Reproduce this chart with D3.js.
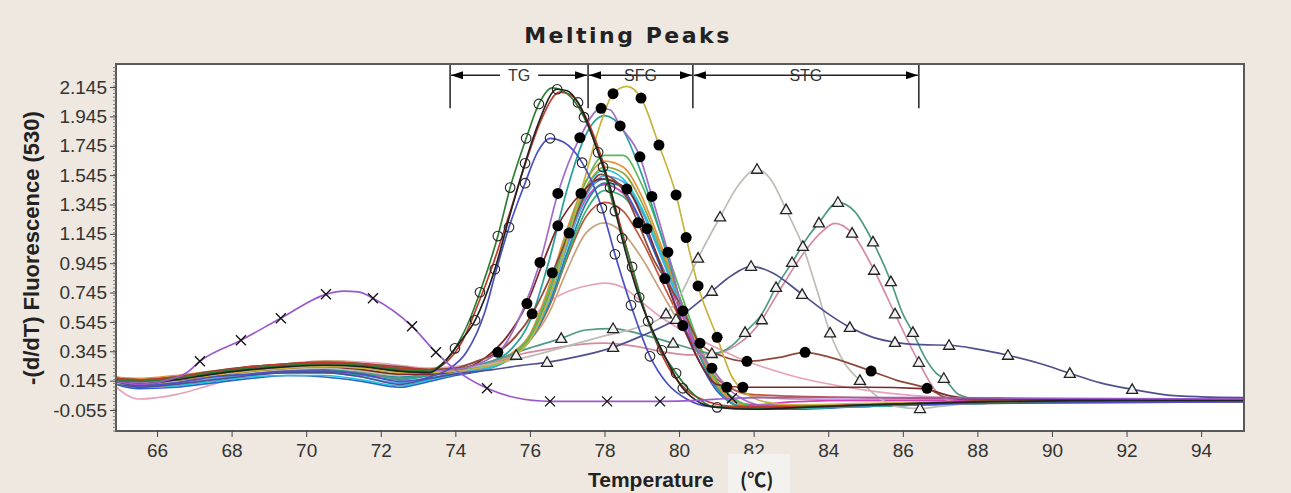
<!DOCTYPE html>
<html><head><meta charset="utf-8">
<script src="https://cdn.jsdelivr.net/npm/d3@7"></script>
<style>html,body{margin:0;padding:0;background:#EEE8E0;} svg{display:block}</style>
</head><body><svg id="chart" width="1291" height="493"></svg>
<script>
// ---------- DATA ----------
const tempTicks = [66,68,70,72,74,76,78,80,82,84,86,88,90,92,94];
const fluorTicks = [-0.055,0.145,0.345,0.545,0.745,0.945,1.145,1.345,1.545,1.745,1.945,2.145];
const regionNames = ["TG","SFG","STG"];
const regionBounds = [73.86,77.56,80.37,86.43];

// shared temperature grid for the unmarked curves
const gridT = [64.9,65.5,66.5,67.5,68.5,69.5,70.5,71.5,72.5,73.3,74,74.8,75.5,76,76.5,77,77.5,78,78.5,79,79.5,80,80.5,81,81.5,82,83,85,88,91,95.15];
const tealV     = [0.15,0.14,0.15,0.17,0.19,0.2,0.2,0.18,0.15,0.18,0.21, 0.26,0.36,0.55,0.95,1.45,1.82,1.95,1.85,1.55,1.15,0.72,0.35,0.1,-0.02,-0.04,-0.04,-0.03,-0.01,0.0,0.0];
const greenV    = [0.16,0.15,0.17,0.2,0.23,0.25,0.25,0.24,0.21,0.21,0.22, 0.25,0.32,0.45,0.75,1.15,1.5,1.68,1.68,1.48,1.15,0.78,0.42,0.15,0.02,-0.03,-0.04,-0.03,-0.01,0.0,0.0];
const orangeV   = [0.17,0.16,0.18,0.21,0.24,0.26,0.27,0.26,0.23,0.22,0.23, 0.26,0.33,0.46,0.78,1.18,1.5,1.64,1.6,1.4,1.08,0.72,0.38,0.12,0.0,-0.03,-0.03,-0.02,0.0,0.0,0.0];
const cyanV     = [0.13,0.1,0.11,0.14,0.17,0.18,0.18,0.15,0.11,0.15,0.19, 0.22,0.3,0.42,0.7,1.1,1.45,1.58,1.52,1.32,1.02,0.7,0.38,0.12,0.0,-0.04,-0.04,-0.03,-0.01,0.0,0.0];
const skyV      = [0.14,0.12,0.13,0.16,0.19,0.2,0.2,0.17,0.13,0.16,0.2, 0.23,0.3,0.42,0.68,1.06,1.4,1.54,1.5,1.3,1.0,0.68,0.36,0.11,0.0,-0.04,-0.04,-0.03,-0.01,0.0,0.0];
const blueV     = [0.12,0.09,0.1,0.13,0.16,0.18,0.17,0.14,0.1,0.14,0.18, 0.22,0.3,0.44,0.72,1.1,1.42,1.52,1.45,1.22,0.92,0.6,0.3,0.08,-0.02,-0.05,-0.05,-0.03,-0.01,0.0,0.0];
const tealBlueV = [0.15,0.13,0.14,0.17,0.2,0.22,0.22,0.2,0.17,0.19,0.21, 0.24,0.31,0.42,0.66,1.02,1.35,1.49,1.47,1.3,1.02,0.72,0.4,0.14,0.01,-0.03,-0.04,-0.03,-0.01,0.0,0.0];
const seaGreenV = [0.16,0.14,0.16,0.19,0.22,0.24,0.24,0.22,0.19,0.2,0.22, 0.25,0.32,0.43,0.66,1.0,1.3,1.44,1.4,1.22,0.95,0.66,0.36,0.12,0.0,-0.03,-0.03,-0.02,0.0,0.0,0.0];
const magentaV  = [0.15,0.12,0.13,0.16,0.19,0.21,0.21,0.19,0.16,0.18,0.2, 0.23,0.3,0.43,0.7,1.08,1.38,1.48,1.42,1.22,0.94,0.64,0.34,0.1,0.0,-0.02,0.0,0.01,0.01,0.02,0.02];
const oliveV    = [0.16,0.15,0.17,0.2,0.23,0.25,0.26,0.25,0.22,0.21,0.22, 0.25,0.31,0.44,0.74,1.14,1.46,1.6,1.56,1.36,1.05,0.72,0.39,0.13,0.01,-0.03,-0.04,-0.02,-0.01,0.0,0.0];
const redBrownV = [0.15,0.14,0.16,0.19,0.22,0.25,0.26,0.25,0.22,0.21,0.22, 0.25,0.31,0.42,0.64,0.98,1.26,1.36,1.3,1.1,0.84,0.58,0.34,0.16,0.08,0.05,0.04,0.03,0.02,0.01,0.01];
const tanV      = [0.17,0.15,0.17,0.2,0.23,0.26,0.28,0.27,0.24,0.22,0.23, 0.26,0.32,0.42,0.6,0.9,1.15,1.22,1.15,0.98,0.76,0.54,0.34,0.18,0.08,0.04,0.02,0.01,0.01,0.0,0.0];
const pinkV     = [0.1,0.02,0.05,0.12,0.19,0.24,0.27,0.27,0.25,0.23,0.24, 0.3,0.42,0.56,0.68,0.75,0.79,0.81,0.78,0.68,0.58,0.5,0.43,0.37,0.31,0.26,0.18,0.08,0.02,0.01,0.01];

// marked curves: [temperature, value, marker?]
const purpleX = [[64.9,0.14],[65.5,0.12],[66.3,0.15],[66.8,0.2],[67.15,0.277,1],[68.25,0.42,1],[69.32,0.57,1],[70.53,0.733,1],[71.0,0.755],[71.4,0.75],[71.79,0.706,1],[72.84,0.515,1],[73.48,0.338,1],[74.0,0.22],[74.85,0.093,1],[75.6,0.03],[76.54,0.004,1],[78.07,0.004,1],[79.49,0.004,1],[80.5,0.01],[81.42,0.025,1],[83,0.03],[86,0.03],[90,0.025],[95.15,0.02]];
const tgBlack = [[64.9,0.14],[65.5,0.12],[66.5,0.15],[67.5,0.19],[68.5,0.22],[69.5,0.24],[70.5,0.25],[71.5,0.24],[72.5,0.21],[73.3,0.2],[73.7,0.27],[74.1,0.4],[74.53,0.556,1],[75.06,0.904,1],[75.47,1.28],[75.87,1.626,1],[76.2,1.88],[76.73,2.13,1],[77.0,2.12],[77.29,2.04,1],[77.83,1.70,1],[78.15,1.46,1],[78.47,1.115,1],[78.93,0.713,1],[79.54,0.352,1],[80.1,0.093,1],[80.6,-0.01],[81.02,-0.037,1],[82,-0.05],[83,-0.04],[85,-0.02],[88,0.0],[92,0.01],[95.15,0.01]];
const tgGreen = [[64.9,0.15],[65.5,0.14],[66.5,0.16],[67.5,0.2],[68.5,0.23],[69.5,0.25],[70.5,0.26],[71.5,0.25],[72.5,0.22],[73.3,0.21],[73.6,0.25],[73.99,0.365,1],[74.4,0.57],[74.66,0.747,1],[75.14,1.13,1],[75.47,1.46,1],[75.9,1.796,1],[76.24,2.03,1],[76.6,2.14],[77.0,2.1],[77.45,1.94,1],[77.96,1.6,1],[78.28,1.3,1],[78.74,0.92,1],[79.17,0.55,1],[79.92,0.195,1],[80.4,0.05],[80.9,-0.03],[82,-0.045],[84,-0.03],[88,0.0],[95.15,0.01]];
const tgRed = [[64.9,0.16],[65.5,0.15],[66.5,0.17],[67.5,0.2],[68.5,0.24],[69.5,0.26],[70.5,0.27],[71.5,0.26],[72.5,0.23],[73.3,0.22],[73.7,0.26],[74.2,0.42],[74.6,0.66],[75.0,0.93],[75.5,1.32],[75.9,1.64],[76.3,1.92],[76.8,2.11],[77.1,2.09],[77.5,1.94],[77.9,1.68],[78.3,1.32],[78.6,1.04],[79.0,0.68],[79.4,0.4],[79.8,0.2],[80.2,0.08],[80.8,0.0],[81.5,-0.03],[83,-0.03],[85,-0.02],[88,0.0],[92,0.01],[95.15,0.01]];
const tgBlue = [[64.9,0.14],[65.5,0.11],[66.5,0.13],[67.5,0.17],[68.5,0.19],[69.5,0.21],[70.5,0.21],[71.5,0.19],[72.5,0.14],[73.3,0.17],[73.8,0.22],[74.3,0.34],[74.8,0.62],[75.1,0.9],[75.44,1.19,1],[75.87,1.49,1],[76.2,1.7],[76.54,1.796,1],[76.9,1.77],[77.4,1.63,1],[77.93,1.32,1],[78.28,1.006,1],[78.71,0.658,1],[79.22,0.311,1],[79.7,0.12],[80.2,0.02],[80.8,-0.03],[82,-0.04],[84,-0.03],[88,-0.01],[95.15,0.0]];
const sfgYellow = [[64.9,0.13],[65.5,0.12],[66.5,0.15],[67.5,0.18],[68.5,0.21],[69.5,0.23],[70.5,0.24],[71.5,0.23],[72.5,0.2],[73.3,0.2],[74,0.21],[74.8,0.24],[75.5,0.3],[76,0.42],[76.5,0.7],[77,1.1],[77.5,1.55],[77.9,1.9],[78.23,2.1,1],[78.6,2.15],[78.98,2.07,1],[79.46,1.75,1],[79.92,1.41,1],[80.19,1.12,1],[80.51,0.79,1],[81.02,0.44,1],[81.4,0.18],[81.8,0.06],[82.3,0.0],[83,-0.02],[85,-0.01],[88,0.0],[95.15,0.0]];
const sfgViolet = [[64.9,0.14],[65.5,0.13],[66.5,0.16],[67.5,0.2],[68.5,0.23],[69.5,0.25],[70.5,0.26],[71.5,0.25],[72.5,0.23],[73.3,0.21],[74,0.22],[74.8,0.28],[75.3,0.38],[75.8,0.62],[76.27,0.95,1],[76.75,1.42,1],[77.34,1.8,1],[77.91,2.0,1],[78.15,1.99],[78.42,1.88,1],[78.95,1.67,1],[79.27,1.4,1],[79.7,1.02,1],[80.1,0.62,1],[80.5,0.36],[80.88,0.23,1],[81.28,0.1,1],[81.7,0.02],[82.2,-0.02],[84,-0.02],[88,0.0],[95.15,0.0]];
const sfgBrown = [[64.9,0.16],[65.5,0.15],[66.5,0.17],[67.5,0.21],[68.5,0.24],[69.5,0.26],[70.5,0.27],[71.5,0.26],[72.5,0.24],[73.3,0.22],[74,0.23],[74.6,0.28],[75.14,0.338,1],[75.6,0.44],[76.06,0.6,1],[76.6,0.88,1],[77.05,1.15,1],[77.5,1.42],[77.9,1.55],[78.4,1.48],[78.9,1.22,1],[79.3,0.98],[79.62,0.84,1],[80.02,0.67],[80.56,0.4,1],[81.18,0.31],[81.82,0.277,1],[82.7,0.304],[83.38,0.338,1],[84.05,0.304],[85.15,0.21,1],[85.84,0.147],[86.65,0.093,1],[87.18,0.03],[88,0.01],[95.15,0.0]];
const sfgMaroon = [[64.9,0.15],[65.5,0.13],[66.5,0.15],[67.5,0.18],[68.5,0.21],[69.5,0.23],[70.5,0.24],[71.5,0.22],[72.5,0.19],[73.3,0.19],[74,0.21],[74.8,0.3],[75.4,0.45],[75.92,0.67,1],[76.35,0.95],[76.75,1.2,1],[77.37,1.42,1],[77.9,1.52],[78.6,1.45,1],[79.14,1.18,1],[79.62,0.85],[80.1,0.52,1],[80.6,0.25],[81.0,0.12],[81.71,0.1,1],[83,0.1],[85,0.1],[86.5,0.09],[87.3,0.04],[88,0.02],[95.15,0.01]];
const stgGray = [[64.9,0.14],[65.5,0.12],[66.5,0.14],[67.5,0.17],[68.5,0.2],[69.5,0.22],[70.5,0.23],[71.5,0.21],[72.5,0.18],[73.3,0.2],[74,0.22],[75,0.26],[76,0.31],[77,0.38],[78,0.45],[78.8,0.5],[79.65,0.6,1],[80.1,0.76],[80.51,0.98,1],[81.1,1.26,1],[81.6,1.48],[82.09,1.585,1],[82.5,1.5],[82.87,1.31,1],[83.32,1.06,1],[83.7,0.76],[84.05,0.47,1],[84.45,0.26],[84.85,0.147,1],[85.3,0.04],[85.8,-0.03],[86.46,-0.045,1],[87.0,-0.03],[88,-0.01],[95.15,0.0]];
const stgNavy = [[64.9,0.13],[65.5,0.1],[66.5,0.12],[67.5,0.15],[68.5,0.18],[69.5,0.2],[70.5,0.2],[71.5,0.17],[72.5,0.12],[73.3,0.16],[74,0.19],[75,0.22],[75.8,0.25],[76.46,0.27,1],[77.3,0.31],[78.23,0.372,1],[79,0.45],[79.92,0.563,1],[80.88,0.754,1],[81.4,0.86],[81.93,0.924,1],[82.5,0.88],[83.3,0.733,1],[84,0.6],[84.58,0.508,1],[85.2,0.44],[85.79,0.406,1],[86.5,0.39],[87.24,0.386,1],[88,0.36],[88.82,0.318,1],[89.7,0.26],[90.48,0.195,1],[91.3,0.13],[92.15,0.086,1],[93,0.05],[94,0.035],[95.15,0.03]];
const stgTeal = [[64.9,0.15],[65.5,0.13],[66.5,0.15],[67.5,0.18],[68.5,0.2],[69.5,0.21],[70.5,0.21],[71.5,0.2],[72.5,0.16],[73.3,0.19],[74,0.22],[75,0.28],[75.9,0.36],[76.84,0.433,1],[77.5,0.49],[78.23,0.5,1],[79,0.46],[79.84,0.4,1],[80.5,0.35],[80.88,0.33,1],[81.4,0.38],[81.77,0.474,1],[82.22,0.6],[82.6,0.78,1],[83.03,0.95,1],[83.5,1.14],[83.75,1.22,1],[84.26,1.36,1],[84.7,1.3],[85.2,1.09,1],[85.68,0.82,1],[86.0,0.6],[86.27,0.474,1],[86.6,0.3],[86.9,0.195],[87.1,0.161,1],[87.5,0.05],[88,0.02],[95.15,0.01]];
const stgPink = [[64.9,0.14],[65.5,0.1],[66.5,0.12],[67.5,0.17],[68.5,0.2],[69.5,0.23],[70.5,0.24],[71.5,0.22],[72.5,0.19],[73.3,0.2],[74,0.22],[75,0.27],[75.63,0.318,1],[76.5,0.36],[77.3,0.39],[78.0,0.4],[78.8,0.38],[79.6,0.34],[80.3,0.32],[81.0,0.33],[81.5,0.38],[81.9,0.46],[82.22,0.56,1],[82.6,0.72],[83.3,1.0],[83.75,1.14],[84.18,1.217],[84.64,1.15,1],[85.23,0.897,1],[85.79,0.6,1],[86.43,0.27,1],[86.9,0.07],[87.4,0.0],[88,0.0],[95.15,0.0]];

// ---------- SERIES ----------
const plainSeries = [
  {values: tanV, color:"#c9a07a"},
  {values: pinkV, color:"#e6a3bb"},
  {values: redBrownV, color:"#c0563a"},
  {values: seaGreenV, color:"#3cb37a"},
  {values: magentaV, color:"#d23fb8"},
  {values: tealBlueV, color:"#1b8a9e"},
  {values: blueV, color:"#2f5fd0"},
  {values: skyV, color:"#56a8e8"},
  {values: cyanV, color:"#20c4d8"},
  {values: oliveV, color:"#9aa43c"},
  {values: orangeV, color:"#e8913a"},
  {values: greenV, color:"#5cb85c"},
  {values: tealV, color:"#2aa198"}
];
const markedSeries = [
  {points: stgPink,   color:"#d48aa0", marker:"tri"},
  {points: stgTeal,   color:"#4f9a85", marker:"tri"},
  {points: stgGray,   color:"#bdbdb5", marker:"tri"},
  {points: stgNavy,   color:"#50508f", marker:"tri"},
  {points: sfgMaroon, color:"#7a2a2a", marker:"dot"},
  {points: sfgBrown,  color:"#8b4a3a", marker:"dot"},
  {points: sfgViolet, color:"#a06cc8", marker:"dot"},
  {points: sfgYellow, color:"#c8b43c", marker:"dot"},
  {points: tgBlue,    color:"#4b4fc4", marker:"ring"},
  {points: tgRed,     color:"#c0392b", marker:null},
  {points: tgGreen,   color:"#2e7d32", marker:"ring"},
  {points: tgBlack,   color:"#222222", marker:"ring"},
  {points: purpleX,   color:"#9b59d0", marker:"x"}
];

// ---------- DRAW ----------
const svg = d3.select("#chart");
const L=116, T=64, R=1244, B=431;
const x = d3.scaleLinear().domain([64.9,95.15]).range([L,R]);
const y = d3.scaleLinear().domain([-0.198,2.302]).range([B,T]);

svg.append("rect").attr("width",1291).attr("height",493).attr("fill","#EEE8E0");
svg.append("rect").attr("x",L).attr("y",T).attr("width",R-L).attr("height",B-T).attr("fill","#fff");

svg.append("defs").append("clipPath").attr("id","clip")
  .append("rect").attr("x",L).attr("y",T).attr("width",R-L).attr("height",B-T);

const plot = svg.append("g").attr("clip-path","url(#clip)");
const line = d3.line().x(d=>x(d[0])).y(d=>y(d[1])).curve(d3.curveMonotoneX);

plot.selectAll("path.plain").data(plainSeries).join("path")
  .attr("class","plain").attr("fill","none").attr("stroke",d=>d.color)
  .attr("stroke-width",1.7)
  .attr("d",d=>line(gridT.map((t,i)=>[t,d.values[i]])));

plot.selectAll("path.marked").data(markedSeries).join("path")
  .attr("class","marked").attr("fill","none").attr("stroke",d=>d.color)
  .attr("stroke-width",1.7)
  .attr("d",d=>line(d.points));

// markers
const mk = plot.append("g");
markedSeries.forEach(s=>{
  if(!s.marker) return;
  const pts = s.points.filter(p=>p[2]);
  const g = mk.append("g");
  pts.forEach(p=>{
    const cx=x(p[0]), cy=y(p[1]);
    if(s.marker==="x"){
      g.append("path").attr("d",`M${cx-5},${cy-5}L${cx+5},${cy+5}M${cx-5},${cy+5}L${cx+5},${cy-5}`)
        .attr("stroke","#111").attr("stroke-width",1.3);
    } else if(s.marker==="ring"){
      g.append("circle").attr("cx",cx).attr("cy",cy).attr("r",4.8)
        .attr("fill","none").attr("stroke","#222").attr("stroke-width",1.1);
    } else if(s.marker==="dot"){
      g.append("circle").attr("cx",cx).attr("cy",cy).attr("r",5.5).attr("fill","#000");
    } else if(s.marker==="tri"){
      g.append("path").attr("d",`M${cx},${cy-5.5}L${cx+5.5},${cy+4}L${cx-5.5},${cy+4}Z`)
        .attr("fill","#f2f2f2").attr("stroke","#222").attr("stroke-width",1.3);
    }
  });
});

// region brackets
const defs = svg.select("defs");
defs.append("marker").attr("id","arrR").attr("viewBox","0 0 12 8").attr("refX",12).attr("refY",4)
  .attr("markerWidth",12).attr("markerHeight",8).attr("markerUnits","userSpaceOnUse").attr("orient","auto")
  .append("path").attr("d","M0,0L12,4L0,8Z").attr("fill","#000");
defs.append("marker").attr("id","arrL").attr("viewBox","0 0 12 8").attr("refX",0).attr("refY",4)
  .attr("markerWidth",12).attr("markerHeight",8).attr("markerUnits","userSpaceOnUse").attr("orient","auto")
  .append("path").attr("d","M12,0L0,4L12,8Z").attr("fill","#000");

const ann = svg.append("g");
regionBounds.forEach(t=>{
  ann.append("line").attr("x1",x(t)).attr("x2",x(t)).attr("y1",T).attr("y2",y(2.0))
    .attr("stroke","#222").attr("stroke-width",1.5);
});
const arrowY = y(2.225);
regionNames.forEach((name,i)=>{
  const x0 = x(regionBounds[i])+1, x1 = x(regionBounds[i+1])-1;
  ann.append("line").attr("x1",x0).attr("x2",x1).attr("y1",arrowY).attr("y2",arrowY)
    .attr("stroke","#222").attr("stroke-width",1.4)
    .attr("marker-start","url(#arrL)").attr("marker-end","url(#arrR)");
  const cx=(x0+x1)/2;
  const txt = ann.append("text").attr("x",cx).attr("y",arrowY+6).attr("text-anchor","middle")
    .attr("font-family","Liberation Sans, Arial, sans-serif").attr("font-size",16).attr("fill","#333").text(name);
  const w = txt.node().getComputedTextLength();
  ann.insert("rect","text").attr("x",cx-w/2-8).attr("y",arrowY-8).attr("width",w+16).attr("height",16).attr("fill","#fff");
});

// frame
svg.append("rect").attr("x",L).attr("y",T).attr("width",R-L).attr("height",B-T)
  .attr("fill","none").attr("stroke","#5a5a5a").attr("stroke-width",2);

// axes
const fontAx = "Liberation Sans, Arial, sans-serif";
const yAxis = svg.append("g").attr("transform",`translate(${L},0)`)
  .call(d3.axisLeft(y).tickValues(fluorTicks).tickFormat(d=>d.toFixed(3)).tickSize(6).tickPadding(3));
const minor = d3.range(-0.195,2.30,0.025);
svg.append("g").attr("transform",`translate(${L},0)`)
  .call(d3.axisLeft(y).tickValues(minor).tickFormat("").tickSize(3))
  .call(g=>g.select(".domain").remove())
  .selectAll("line").attr("stroke","#777");
const xAxis = svg.append("g").attr("transform",`translate(0,${B})`)
  .call(d3.axisBottom(x).tickValues(tempTicks).tickFormat(d=>d).tickSize(6).tickPadding(7));
[yAxis,xAxis].forEach(g=>{
  g.select(".domain").remove();
  g.selectAll("line").attr("stroke","#444");
  g.selectAll("text").attr("font-family",fontAx).attr("font-size",19).attr("fill","#333");
});

// titles
svg.append("text").attr("x",628).attr("y",43).attr("text-anchor","middle")
  .attr("font-family","DejaVu Sans, Verdana, sans-serif").attr("font-weight","bold")
  .attr("font-size",22).attr("letter-spacing","2.5px").attr("fill","#222").text("Melting Peaks");
svg.append("text").attr("transform","translate(39,248) rotate(-90)").attr("text-anchor","middle")
  .attr("font-family",fontAx).attr("font-weight","bold").attr("font-size",22).attr("fill","#222")
  .text("-(d/dT) Fluorescence (530)");
svg.append("rect").attr("x",728).attr("y",454).attr("width",62).attr("height",39).attr("fill","#F4F2EF");
svg.append("text").attr("x",588).attr("y",487)
  .attr("font-family",fontAx+", Noto Sans CJK SC").attr("font-weight","bold").attr("font-size",21).attr("fill","#222")
  .text("Temperature");
svg.append("text").attr("x",740).attr("y",487)
  .attr("font-family","Noto Sans CJK SC, "+fontAx).attr("font-weight","bold").attr("font-size",19).attr("fill","#222")
  .text("(℃)");
</script></body></html>
